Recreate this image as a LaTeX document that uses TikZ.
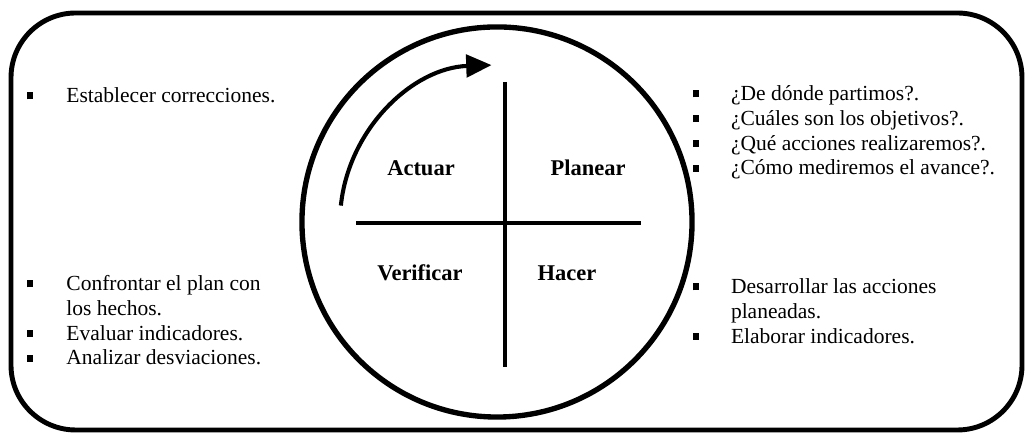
\documentclass[tikz,border=0pt]{standalone}
\usepackage{fontspec}
\setmainfont{Liberation Serif}
\usetikzlibrary{arrows.meta,positioning}
\newcommand{\sqbullet}{\rule[0.15em]{0.25em}{0.32em}}
\newcommand{\entry}[1]{\smash{#1}}
\tikzset{
  frame/.style={
    draw=black,
    line width=3.5pt,
    rounded corners=46pt
  },
  wheel/.style={
    circle,
    draw=black,
    line width=3.8pt,
    minimum size=9.75cm,
    inner sep=0pt
  },
  crossline/.style={
    draw=black,
    line width=3.3pt
  },
  cyclearrow/.style={
    -{Triangle[length=18pt,width=16pt]},
    line width=2.9pt
  },
  phase/.style={
    inner sep=0pt,
    font=\fontsize{16}{18}\selectfont\bfseries
  },
  itemlist/.style={
    anchor=north west,
    inner sep=0pt,
    align=left,
    font=\fontsize{15.3}{17.6}\selectfont
  }
}

\begin{document}
\begin{tikzpicture}[x=0.025cm, y=0.025cm]
  \useasboundingbox (0,0) rectangle (1034,444);

  % outer frame
  \draw[frame] (11,14) rectangle (1022,431);

  % cycle wheel and cross
  \node[wheel] (wheel) at (497,222) {};
  \coordinate (crosstop) at (505,362);
  \coordinate (crossbottom) at (505,77);
  \coordinate (crossleft) at (356,221);
  \coordinate (crossright) at (641,221);
  \draw[crossline] (crosstop) -- (crossbottom);
  \draw[crossline] (crossleft) -- (crossright);
  \draw[cyclearrow] (wheel.center) ++(174:157) arc[start angle=174, end angle=92, radius=157];

  % phases
  \node[phase] (actuar) at (421,276) {Actuar};
  \node[phase] (planear) at (588,276) {Planear};
  \node[phase] (verificar) at (420,171) {Verificar};
  \node[phase] (hacer) at (567,171) {Hacer};

  % notes per phase
  \node[itemlist] (actuarlist) at (27,359) {\begin{tabular}{@{}l@{\hspace{24pt}}l@{}}
    \sqbullet & \entry{Establecer correcciones.}
  \end{tabular}};
  \node[itemlist] (planearlist) at (693,361) {\begin{tabular}{@{}l@{\hspace{23pt}}l@{}}
    \sqbullet & \entry{¿De dónde partimos?.}\\
    \sqbullet & \entry{¿Cuáles son los objetivos?.}\\
    \sqbullet & \entry{¿Qué acciones realizaremos?.}\\
    \sqbullet & \entry{¿Cómo mediremos el avance?.}
  \end{tabular}};
  \node[itemlist] (verificarlist) at (27,171) {\begin{tabular}{@{}l@{\hspace{24pt}}l@{}}
    \sqbullet & \entry{Confrontar el plan con}\\
              & \entry{los hechos.}\\
    \sqbullet & \entry{Evaluar indicadores.}\\
    \sqbullet & \entry{Analizar desviaciones.}
  \end{tabular}};
  \node[itemlist] (hacerlist) at (693,168) {\begin{tabular}{@{}l@{\hspace{23pt}}l@{}}
    \sqbullet & \entry{Desarrollar las acciones}\\
              & \entry{planeadas.}\\
    \sqbullet & \entry{Elaborar indicadores.}
  \end{tabular}};
\end{tikzpicture}
\end{document}
